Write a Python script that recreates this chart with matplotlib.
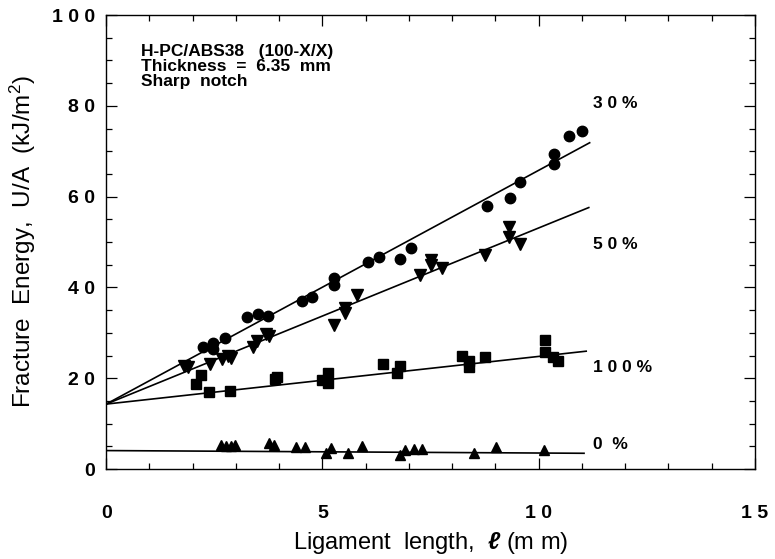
import numpy as np
import matplotlib
matplotlib.use("Agg")
import matplotlib.pyplot as plt
from matplotlib.ticker import MultipleLocator, FixedLocator, FixedFormatter

plt.rcParams['font.family'] = ['Liberation Sans', 'DejaVu Sans']
plt.rcParams['mathtext.fontset'] = 'custom'
plt.rcParams['mathtext.it'] = 'Liberation Sans:italic:bold'
plt.rcParams['mathtext.rm'] = 'Liberation Sans'

# 30 % (circles)
x30 = [2.24, 2.48, 2.48, 2.74, 3.25, 3.50, 3.75, 4.52, 4.77, 5.27, 5.27,
       6.06, 6.31, 6.80, 7.05, 8.81, 9.33, 9.58, 10.35, 10.35, 10.70, 11.0]
y30 = [26.9, 27.8, 26.4, 28.8, 33.4, 34.1, 33.8, 37.0, 37.8, 42.0, 40.5,
       45.7, 46.6, 46.3, 48.7, 58.0, 59.8, 63.3, 69.3, 67.3, 73.4, 74.5]

# 50 % (down triangles)
x50 = [1.80, 1.90, 2.40, 2.67, 2.82, 2.88, 3.39, 3.49, 3.70, 3.77,
       5.27, 5.52, 5.52, 5.79, 7.26, 7.52, 7.52, 7.77, 8.77, 9.32, 9.32, 9.57]
y50 = [22.7, 22.4, 23.1, 24.2, 24.9, 24.4, 26.8, 28.2, 29.7, 29.3,
       31.7, 35.4, 34.3, 38.3, 42.7, 46.0, 44.9, 44.3, 47.1, 53.4, 51.2, 49.6]

# 100 % (squares)
x100 = [2.07, 2.19, 2.38, 2.87, 3.95, 3.90, 4.99, 5.12, 5.13,
        6.41, 6.72, 6.80, 8.22, 8.40, 8.40, 8.77, 10.14, 10.14, 10.33, 10.44]
y100 = [18.7, 20.7, 16.9, 17.2, 20.3, 19.8, 19.6, 21.2, 19.0,
        23.1, 21.2, 22.6, 24.9, 23.8, 22.4, 24.7, 28.4, 25.8, 24.6, 23.9]

# 0 % (up triangles)
x0 = [2.65, 2.77, 2.88, 2.98, 3.77, 3.89, 4.38, 4.59, 5.09, 5.21, 5.60,
      5.91, 6.80, 6.92, 7.11, 7.30, 8.50, 9.01, 10.13]
y0 = [5.3, 5.1, 5.1, 5.3, 5.7, 5.3, 4.9, 4.9, 3.5, 4.6, 3.5,
      5.1, 3.1, 4.2, 4.3, 4.3, 3.5, 4.9, 4.2]

# linear fits (intercept, slope, end of line)
fit_names = ['3 0 %', '5 0 %', '1 0 0 %', '0  %']
fit_b = [14.3, 14.3, 14.3, 4.06]
fit_m = [5.15, 3.88, 1.05, -0.054]
fit_xend = [11.18, 11.16, 11.1, 11.05]

xticks = [0, 5, 10, 15]
xticklabels = ['0', '5', '1 0', '1 5']
yticks = [0, 20, 40, 60, 80, 100]
yticklabels = ['0', '2 0', '4 0', '6 0', '8 0', '1 0 0']

fig = plt.figure(figsize=(7.75, 5.59), dpi=100)
ax = fig.add_axes([0.137, 0.161, 0.837, 0.812])

ms = 7.5
ax.plot(x30, y30, 'o', color='black', ms=ms, mec='black')
ax.plot(x50, y50, 'v', color='black', ms=ms + 0.5, mec='black')
ax.plot(x100, y100, 's', color='black', ms=ms - 0.5, mec='black')
ax.plot(x0, y0, '^', color='black', ms=ms, mec='black')

for b, m, xe in zip(fit_b, fit_m, fit_xend):
    xx = np.array([0, xe])
    ax.plot(xx, b + m * xx, '-', color='black', lw=1.2)

ax.set_xlim(0, 15)
ax.set_ylim(0, 100)
ax.xaxis.set_major_locator(FixedLocator(xticks))
ax.xaxis.set_major_formatter(FixedFormatter(xticklabels))
ax.yaxis.set_major_locator(FixedLocator(yticks))
ax.yaxis.set_major_formatter(FixedFormatter(yticklabels))
ax.xaxis.set_minor_locator(MultipleLocator(1))
ax.yaxis.set_minor_locator(MultipleLocator(5))
ax.tick_params(which='both', direction='in', top=True, right=True, width=0.9)
ax.tick_params(which='major', length=8)
ax.tick_params(which='minor', length=4)
ax.tick_params(axis='x', which='major', pad=26, labelsize=14)
ax.tick_params(axis='y', which='major', pad=8, labelsize=14)
for lab in ax.get_xticklabels() + ax.get_yticklabels():
    lab.set_fontweight('bold')
for s in ax.spines.values():
    s.set_linewidth(1.0)

ax.set_xlabel(r'Ligament  length,  $\ell$ (m m)', fontsize=17, labelpad=6)
ax.set_ylabel(r'Fracture  Energy,  U/A  (kJ/m$^2$)', fontsize=17.5, labelpad=10)

ax.text(0.8, 93.6, 'H-PC/ABS38   (100-X/X)\nThickness  =  6.35  mm\nSharp  notch',
        fontsize=12.5, fontweight='bold', va='top', ha='left', linespacing=1.0)

label_y = [80.5, 49.5, 22.3, 5.5]
for name, ly in zip(fit_names, label_y):
    ax.text(11.25, ly, name, fontsize=12.5, fontweight='bold', va='center', ha='left')

fig.savefig('out.png', dpi=100)
